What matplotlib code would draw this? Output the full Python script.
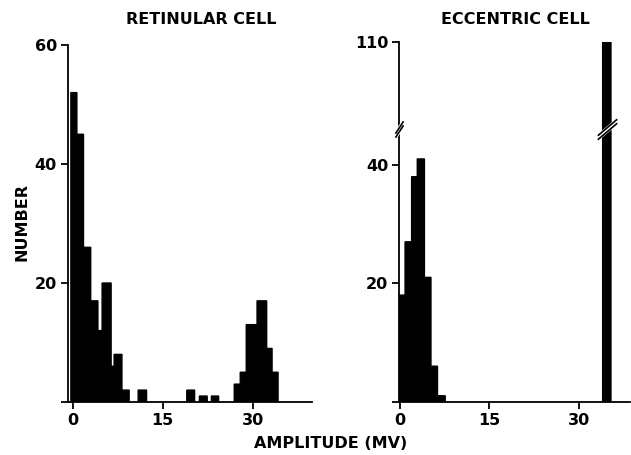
"""
Amplitude-Histogramme: Retinula- vs. Exzentrische Zelle (Nachbau der Abbildung).
"""
import numpy as np
import matplotlib

matplotlib.use("Agg")
import matplotlib.pyplot as plt
from matplotlib.path import Path
import matplotlib.transforms as mtransforms

# -----------------------------------------------------------------------------
# Daten: Bin-Grenzen in mV und Anzahl
# -----------------------------------------------------------------------------
ret_lo = [-0.3, 0.7, 1.8, 3.0, 4.2, 4.9, 6.4, 6.9, 8.2, 10.9,
          19.0, 21.1, 23.1, 26.9, 27.9, 28.9, 30.7, 32.3, 33.2]
ret_hi = [0.7, 1.8, 3.0, 4.2, 4.9, 6.4, 6.9, 8.2, 9.4, 12.3,
          20.3, 22.4, 24.3, 27.9, 28.9, 30.7, 32.3, 33.2, 34.2]
ret_n = [52, 45, 26, 17, 12, 20, 6, 8, 2, 2, 2, 1, 1, 3, 5, 13, 17, 9, 5]

ecc_lo = [-0.1, 0.85, 1.95, 2.9, 4.1, 5.2, 6.3, 34.05]
ecc_hi = [0.85, 1.95, 2.9, 4.1, 5.2, 6.3, 7.6, 35.45]
ecc_n = [18, 27, 38, 41, 21, 6, 1, 110]

x_ticks = [0, 15, 30]
ret_yticks = [0, 20, 40, 60]
ret_ylabels = ["", "20", "40", "60"]
ecc_yticks = [0, 20, 40, 110]
ecc_ylabels = ["", "20", "40", "110"]

# Achsenbruch rechts: linear bis BREAK, darueber gestaucht
BREAK = 46.0
SQUEEZE = (60.8 - BREAK) / (110 - BREAK)

FONT = dict(fontfamily="DejaVu Sans", fontweight="bold", fontsize=11.5)


def fwd(y):
    y = np.asarray(y, dtype=float)
    return np.where(y <= BREAK, y, BREAK + (y - BREAK) * SQUEEZE)


def inv(y):
    y = np.asarray(y, dtype=float)
    return np.where(y <= BREAK, y, BREAK + (y - BREAK) / SQUEEZE)


def style(ax, xlim):
    for s in ("top", "right"):
        ax.spines[s].set_visible(False)
    for s in ("left", "bottom"):
        ax.spines[s].set_linewidth(1.3)
    ax.set_xlim(*xlim)
    ax.set_xticks(x_ticks)
    ax.set_xticklabels([str(t) for t in x_ticks], **FONT)
    ax.tick_params(axis="both", direction="out", length=5, width=1.3, pad=3)


def bars(ax, lo, hi, n):
    lo = np.asarray(lo)
    hi = np.asarray(hi)
    cont = ax.bar(lo, n, width=hi - lo, align="edge", color="black",
                  edgecolor="black", linewidth=1.0)
    for p in cont:
        p.set_snap(False)  # sonst 1px-Luecken zwischen Nachbarbalken


fig = plt.figure(figsize=(6.31, 4.55), dpi=100)

# --- linkes Panel ------------------------------------------------------------
ax1 = fig.add_axes([68 / 631, 1 - 402 / 455, 243.7 / 631, 357 / 455])
bars(ax1, ret_lo, ret_hi, ret_n)
style(ax1, (-0.78, 39.8))
ax1.set_ylim(0, 60)
ax1.set_yticks(ret_yticks)
ax1.set_yticklabels(ret_ylabels, **FONT)

# --- rechtes Panel (gebrochene y-Achse) ---------------------------------------
ax2 = fig.add_axes([399.3 / 631, 1 - 401.7 / 455, 231 / 631, 360 / 455])
ax2.set_yscale("function", functions=(fwd, inv))
bars(ax2, ecc_lo, ecc_hi, ecc_n)
style(ax2, (-0.12, 38.7))
ax2.set_ylim(0, 110)
ax2.set_yticks(ecc_yticks)
ax2.set_yticklabels(ecc_ylabels, **FONT)
ax2.minorticks_off()

# Bruch-Markierungen "//" auf Achse und auf dem hohen Balken
spine_slash = Path([(-0.65, -1), (0.65, 1)], [Path.MOVETO, Path.LINETO])
bar_slash = Path([(-1, -0.85), (1, 0.85)], [Path.MOVETO, Path.LINETO])
blend = mtransforms.blended_transform_factory(ax2.transAxes, ax2.transData)
for x, tr, ms, path in [(0, blend, 9, spine_slash),
                        (34.75, ax2.transData, 14, bar_slash)]:
    ax2.plot([x], [BREAK], marker=path, markersize=ms, mew=4.0, color="white",
             transform=tr, clip_on=False, zorder=5)
    off = 2.0
    for dy in (-off, off):
        t = tr + mtransforms.ScaledTranslation(0, dy / 100, fig.dpi_scale_trans)
        ax2.plot([x], [BREAK], marker=path, markersize=ms, mew=1.2,
                 color="black", transform=t, clip_on=False, zorder=6)

# --- Beschriftung ------------------------------------------------------------
fig.text(201 / 631, 1 - 19 / 455, "RETINULAR CELL", ha="center", va="center", **FONT)
fig.text(515 / 631, 1 - 19 / 455, "ECCENTRIC CELL", ha="center", va="center", **FONT)
fig.text(21.5 / 631, 1 - 222 / 455, "NUMBER", rotation=90, ha="center",
         va="center", **FONT)
fig.text(331 / 631, 1 - 443 / 455, "AMPLITUDE (MV)", ha="center", va="center", **FONT)

fig.savefig("out.png", dpi=100)
